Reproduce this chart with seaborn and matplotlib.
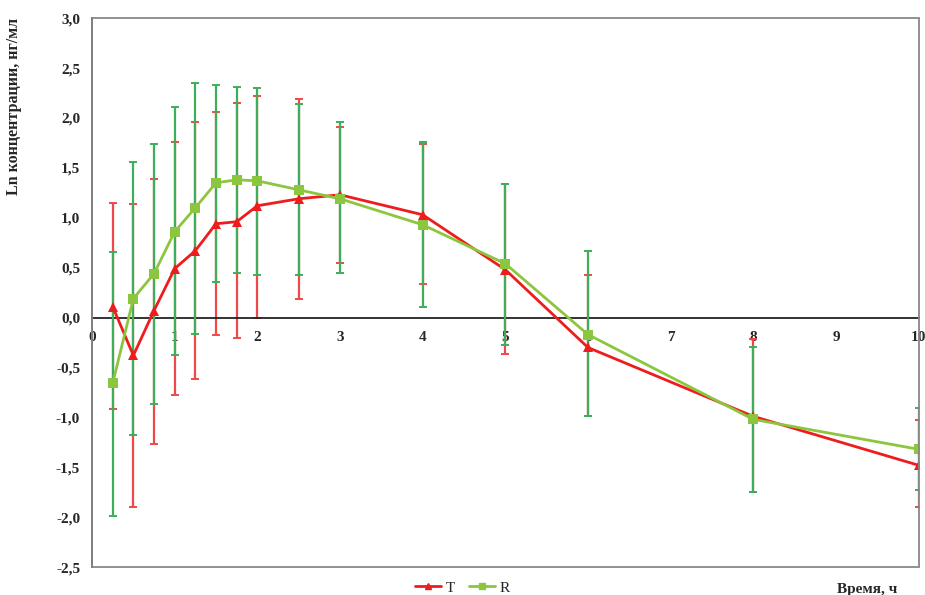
import numpy as np
import pandas as pd
import seaborn as sns
import matplotlib.pyplot as plt
from matplotlib.patches import Rectangle
from matplotlib.ticker import MultipleLocator, FuncFormatter

# --- Datos ---
time_h = [0.25, 0.5, 0.75, 1, 1.25, 1.5, 1.75, 2, 2.5, 3, 4, 5, 6, 8, 10]

t_mean = [0.11, -0.38, 0.07, 0.49, 0.67, 0.94, 0.96, 1.12, 1.19, 1.23, 1.03, 0.48, -0.30, -0.99, -1.48]
t_upper = [1.15, 1.14, 1.39, 1.76, 1.96, 2.06, 2.15, 2.22, 2.19, 1.91, 1.74, 1.34, 0.43, -0.22, -1.03]
t_lower = [-0.92, -1.90, -1.27, -0.78, -0.62, -0.17, -0.21, 0.00, 0.19, 0.55, 0.34, -0.37, -0.99, -1.75, -1.90]

r_mean = [-0.66, 0.19, 0.44, 0.86, 1.10, 1.35, 1.38, 1.37, 1.28, 1.19, 0.93, 0.54, -0.17, -1.02, -1.32]
r_upper = [0.66, 1.56, 1.74, 2.11, 2.35, 2.33, 2.31, 2.30, 2.14, 1.96, 1.76, 1.34, 0.67, -0.30, -0.91]
r_lower = [-1.99, -1.18, -0.87, -0.38, -0.16, 0.36, 0.45, 0.43, 0.43, 0.45, 0.11, -0.28, -0.99, -1.75, -1.73]

y_ticks = [-2.5, -2.0, -1.5, -1.0, -0.5, 0.0, 0.5, 1.0, 1.5, 2.0, 2.5, 3.0]
x_ticks = [0, 1, 2, 3, 4, 5, 6, 7, 8, 9, 10]

df = pd.DataFrame({
    "time": time_h * 2,
    "value": t_mean + r_mean,
    "group": ["T"] * len(time_h) + ["R"] * len(time_h),
})

# --- Estilo ---
sns.set_style("white")
plt.rcParams["font.family"] = ["Liberation Serif", "DejaVu Serif"]

RED = "#ee1c1c"
RED_ERR = "#f04848"
GREEN = "#8cc63f"
GREEN_ERR = "#3dae5a"

fig = plt.figure(figsize=(9.25, 5.95), dpi=100)
ax = fig.add_axes([0.0995, 0.047, 0.8935, 0.9225])

# barras de error (rojo debajo, verde encima)
t_arr, tm = np.array(time_h), np.array(t_mean)
ax.errorbar(t_arr, tm, yerr=[tm - np.array(t_lower), np.array(t_upper) - tm],
            fmt="none", ecolor=RED_ERR, elinewidth=1.6, capsize=3, capthick=1.4, zorder=2)
rm = np.array(r_mean)
ax.errorbar(t_arr, rm, yerr=[rm - np.array(r_lower), np.array(r_upper) - rm],
            fmt="none", ecolor=GREEN_ERR, elinewidth=1.6, capsize=3, capthick=1.4, zorder=3)

sns.lineplot(data=df, x="time", y="value", hue="group", style="group",
             palette={"T": RED, "R": GREEN}, markers={"T": "^", "R": "s"},
             dashes=False, markersize=7, markeredgewidth=0, linewidth=2,
             ax=ax, legend=False, zorder=4)

# --- Ejes ---
ax.set_xlim(0, 10)
ax.set_ylim(-2.5, 3.0)
ax.set_yticks(y_ticks)
ax.set_xticks(x_ticks)
ax.yaxis.set_minor_locator(MultipleLocator(0.1))
ax.xaxis.set_minor_locator(MultipleLocator(0.2))
ax.yaxis.set_major_formatter(FuncFormatter(lambda v, p: f"{v:.1f}".replace(".", ",")))
ax.xaxis.set_major_formatter(FuncFormatter(lambda v, p: f"{int(v)}"))

for s in ["top", "right"]:
    ax.spines[s].set_visible(False)
ax.spines["bottom"].set_position(("data", 0))
ax.spines["bottom"].set_color("#222222")
ax.spines["bottom"].set_linewidth(1.3)
ax.spines["left"].set_color("#333333")
ax.spines["left"].set_linewidth(1.3)

ax.add_patch(Rectangle((0, 0), 1, 1, transform=ax.transAxes, fill=False,
                       edgecolor="#888888", linewidth=1.3, zorder=5, clip_on=False))

ax.tick_params(axis="both", which="major", direction="out", length=5, width=1.2,
               labelsize=11, color="#222222")
ax.tick_params(axis="both", which="minor", direction="out", length=3, width=1, color="#222222")
ax.tick_params(axis="x", pad=5)
for lbl in ax.get_xticklabels() + ax.get_yticklabels():
    lbl.set_fontweight("bold")

ax.set_xlabel("")
ax.set_ylabel("Ln концентрации, нг/мл", fontsize=11.5, fontweight="bold")
ax.yaxis.set_label_coords(-0.085, 0.84)

fig.text(0.937, 0.01, "Время, ч", fontsize=11, fontweight="bold", ha="center", va="center")

handles = [
    plt.Line2D([], [], color=RED, marker="^", markersize=5, linewidth=2, label="T"),
    plt.Line2D([], [], color=GREEN, marker="s", markersize=5, linewidth=2, label="R"),
]
fig.legend(handles=handles, loc="center", bbox_to_anchor=(0.50, 0.012), ncol=2,
           frameon=False, fontsize=11, handlelength=1.7, handletextpad=0.3, columnspacing=0.9)

fig.savefig("out.png", dpi=100)
